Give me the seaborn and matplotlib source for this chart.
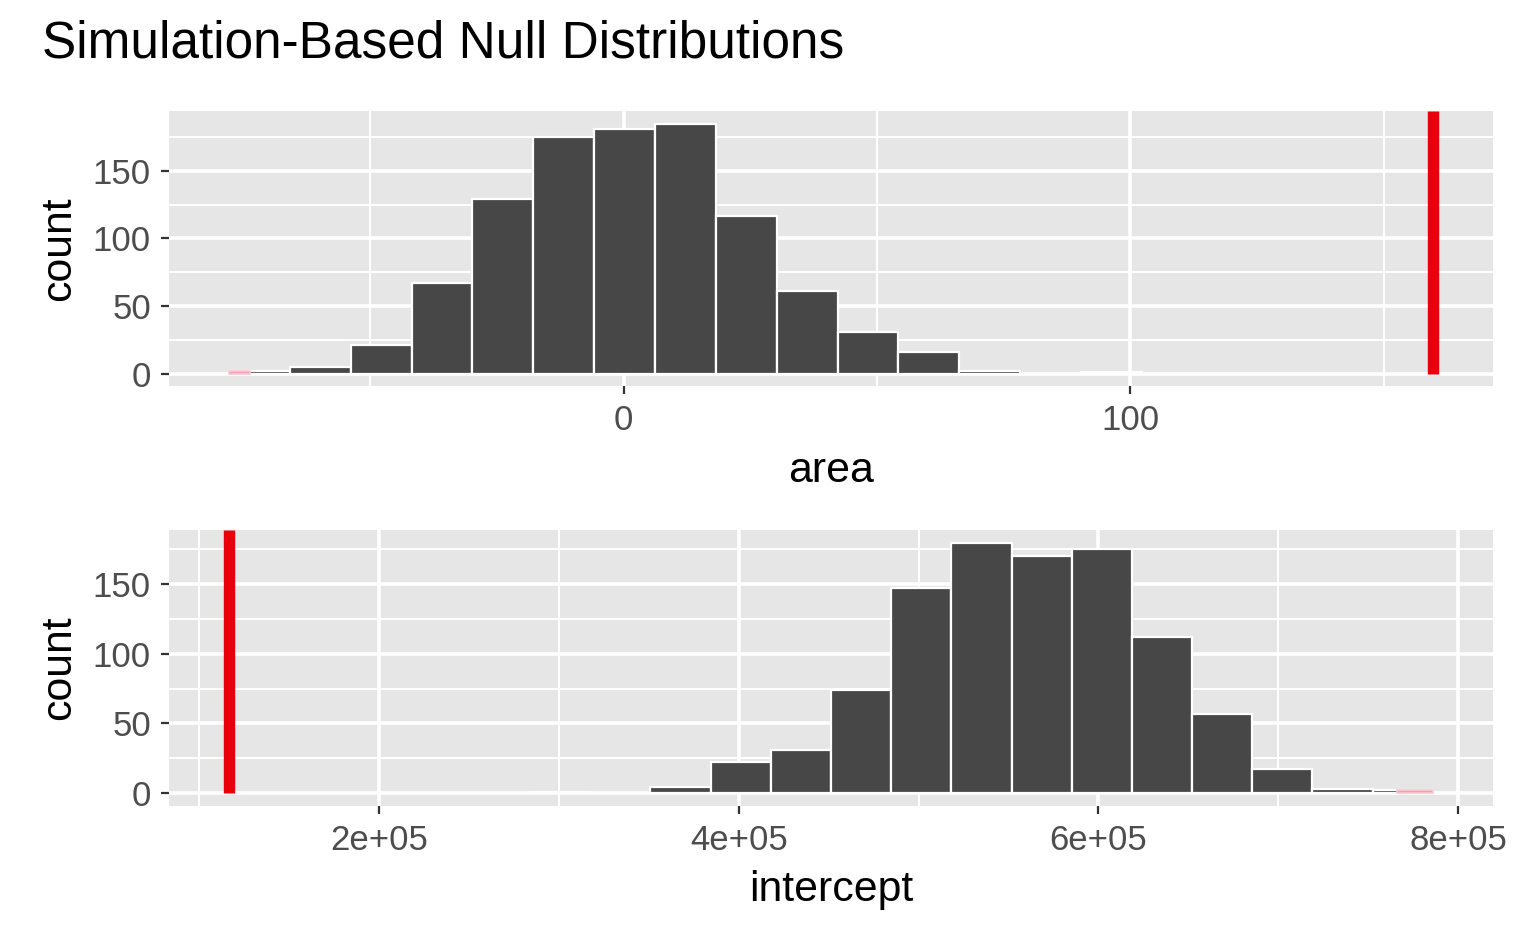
import numpy as np
import pandas as pd
import matplotlib
matplotlib.use("Agg")
import matplotlib.pyplot as plt
import seaborn as sns

# --- datos ---
# panel superior: pendiente "area"
area_edges = [-77.9, -65.9, -53.9, -41.9, -29.9, -17.9, -5.9, 6.1, 18.2,
              30.2, 42.2, 54.2, 66.2, 78.2, 90.2, 102.2]
area_counts = [2, 5, 21, 67, 129, 175, 181, 185, 117, 61, 31, 16, 2, 0, 1]
area_obs = 159.7
area_shade = [-77.9, -73.8]   # parte sombreada (p-valor)

# panel inferior: "intercept"
int_edges = [284050, 317500, 350960, 384410, 417860, 451320, 484770, 518220,
             551680, 585130, 618580, 652040, 685490, 718940, 752400, 785850]
int_counts = [1, 0, 4, 22, 31, 74, 147, 180, 170, 175, 112, 57, 17, 3, 2]
int_obs = 116800
int_shade = [765900, 785850]

area_ticks = [0, 100]
area_minor = [-50, 50, 150]
int_ticks = [200000, 400000, 600000, 800000]
int_ticklabels = ["2e+05", "4e+05", "6e+05", "8e+05"]
int_minor = [100000, 300000, 500000, 700000]
count_ticks = [0, 50, 100, 150]
count_minor = [25, 75, 125, 175]

sns.set_theme(style="darkgrid", rc={
    "axes.facecolor": "#E6E6E6",
    "grid.color": "white",
    "axes.edgecolor": "none",
    "xtick.bottom": True,
    "ytick.left": True,
})
plt.rcParams["font.family"] = ["Liberation Sans", "DejaVu Sans"]

fig = plt.figure(figsize=(7.68, 4.745), dpi=200)
ax1 = fig.add_axes([0.110, 0.593, 0.862, 0.290])
ax2 = fig.add_axes([0.110, 0.1512, 0.862, 0.2903])


def panel(ax, edges, counts, obs, shade, ticks, ticklabels, minor, xlabel):
    centros = [(edges[i] + edges[i + 1]) / 2 for i in range(len(counts))]
    df = pd.DataFrame({"x": centros, "n": counts})
    sns.histplot(data=df, x="x", weights="n", bins=edges, ax=ax,
                 color="#474747", edgecolor="white", linewidth=0.8, alpha=1)
    # zona sombreada del p-valor
    k = 0 if shade[0] <= edges[0] + 1e-9 else len(counts) - 1
    sdf = pd.DataFrame({"x": [(shade[0] + shade[1]) / 2], "n": [counts[k]]})
    sns.histplot(data=sdf, x="x", weights="n", bins=shade, ax=ax,
                 color="#EFA3B4", edgecolor="#F6C8D2", linewidth=0.6, alpha=1)

    lo = min(edges[0], obs)
    hi = max(edges[-1], obs)
    pad = (hi - lo) * 0.05
    ax.set_xlim(lo - pad, hi + pad)
    ymax = max(counts)
    ax.set_ylim(-ymax * 0.05, ymax * 1.05)
    ax.vlines(obs, 0, ymax * 1.05, color="#E8000B", linewidth=4.1, zorder=5)

    ax.set_xticks(ticks)
    ax.set_xticklabels(ticklabels)
    ax.set_xticks(minor, minor=True)
    ax.set_yticks(count_ticks)
    ax.set_yticks(count_minor, minor=True)
    ax.grid(True, which="major", color="white", linewidth=1.3)
    ax.grid(True, which="minor", color="white", linewidth=0.7)
    ax.set_axisbelow(True)
    ax.tick_params(axis="both", which="major", length=3, width=0.8,
                   color="#333333", labelsize=12.5, labelcolor="#4D4D4D", pad=3.5)
    ax.tick_params(axis="both", which="minor", length=0)
    ax.set_xlabel(xlabel, fontsize=15.4, color="black", labelpad=5)
    ax.set_ylabel("count", fontsize=15.4, color="black", labelpad=5)
    for s in ax.spines.values():
        s.set_visible(False)


panel(ax1, area_edges, area_counts, area_obs, area_shade,
      area_ticks, ["0", "100"], area_minor, "area")
panel(ax2, int_edges, int_counts, int_obs, int_shade,
      int_ticks, int_ticklabels, int_minor, "intercept")

fig.text(0.0273, 1 - 58 / 949, "Simulation-Based Null Distributions",
         fontsize=18.5, color="black", va="baseline", ha="left")

fig.savefig("out.png", dpi=200, facecolor="white")
